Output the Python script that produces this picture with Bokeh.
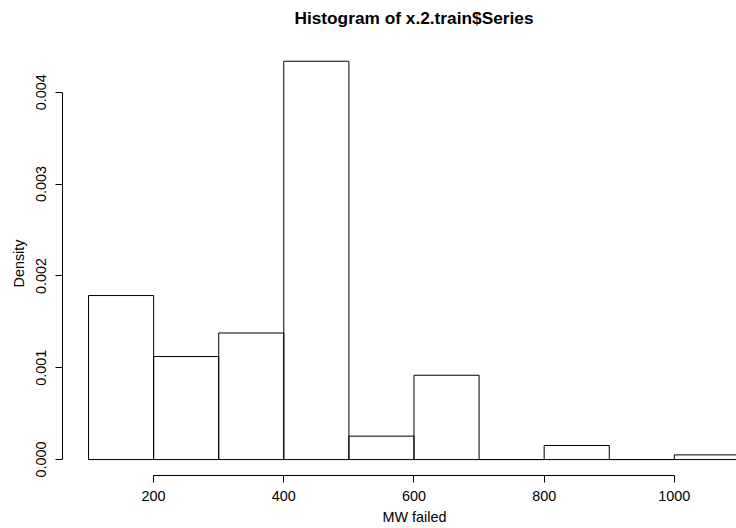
from bokeh.plotting import figure
from bokeh.models import Range1d, FixedTicker, NumeralTickFormatter, Title, Label
from bokeh.embed import file_html
from bokeh.resources import INLINE

# Histogram of x.2.train$Series: bin edges (MW) and density per bin
bin_left = [100, 200, 300, 400, 500, 600, 700, 800, 900, 1000]
bin_right = [200, 300, 400, 500, 600, 700, 800, 900, 1000, 1100]
density = [0.001786, 0.001122, 0.001378, 0.004337, 0.000255,
           0.000918, 0.0, 0.000153, 0.0, 0.000051]

x_ticks = [200, 400, 600, 800, 1000]
y_ticks = [0.000, 0.001, 0.002, 0.003, 0.004]

FONT = "Liberation Sans"

# the y scale spans the data with 4% padding over the lower 432 px of a
# 477 px frame; the upper 45 px of the frame hold the main title
ymax = max(density)
pad = 0.04 * ymax
px_per_unit = 432.0 / (ymax + 2 * pad)
y_top = -pad + 477.0 / px_per_unit

p = figure(width=736, height=528, output_backend="svg", toolbar_location=None,
           x_range=Range1d(60, 1095.5), y_range=Range1d(-pad, y_top),
           min_border_left=62, min_border_right=0, min_border_top=0,
           min_border_bottom=51)
p.title.visible = False
p.outline_line_color = None
p.grid.visible = False
p.background_fill_color = "white"
p.border_fill_color = "white"

p.quad(left=bin_left, right=bin_right, top=density, bottom=0,
       fill_color=None, line_color="black", line_width=1)

for ax in (p.xaxis[0], p.yaxis[0]):
    ax.major_tick_out = 7
    ax.major_tick_in = 0
    ax.minor_tick_line_color = None
    ax.axis_line_color = "black"
    ax.major_tick_line_color = "black"
    ax.major_label_text_font = FONT
    ax.major_label_text_font_size = "14.4px"
    ax.major_label_text_color = "black"

p.xaxis.ticker = FixedTicker(ticks=x_ticks)
p.xaxis.bounds = (200, 1000)
p.xaxis.major_label_standoff = 8

p.yaxis.ticker = FixedTicker(ticks=y_ticks)
p.yaxis.formatter = NumeralTickFormatter(format="0.000")
p.yaxis.bounds = (0, 0.004)
p.yaxis.major_label_orientation = "vertical"
p.yaxis.major_label_standoff = 9

# main title, centred on the plotting region (60..1140)
p.add_layout(Label(x=600, y=y_top - 17.5 / px_per_unit,
                   text="Histogram of x.2.train$Series",
                   text_font=FONT, text_font_size="17.3px",
                   text_font_style="bold", text_align="center",
                   text_baseline="middle", text_color="black"))
# axis titles placed along their panels
p.add_layout(Title(text="MW failed", align="left", offset=320, standoff=7,
                   text_font=FONT, text_font_size="14.4px",
                   text_font_style="normal", text_color="black"), "below")
p.add_layout(Title(text="Density", align="left", offset=188, standoff=14,
                   text_font=FONT, text_font_size="14.4px",
                   text_font_style="normal", text_color="black"), "left")

open("out.html", "w").write(file_html(p, INLINE))
